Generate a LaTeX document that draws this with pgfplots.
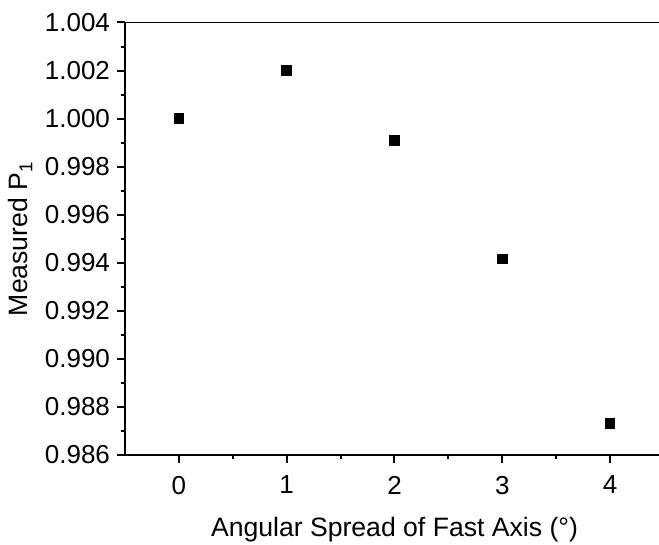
\documentclass[border=0pt]{standalone}
\usepackage{fontspec}
\setmainfont{Liberation Sans}
\usepackage{pgfplots}
\pgfplotsset{compat=1.18}
\begin{document}
\begin{tikzpicture}
\begin{axis}[
  name=ax,
  scale only axis,
  width=269.5pt, height=216.25pt,
  xmin=-0.5, xmax=4.5, ymin=0.986, ymax=1.004,
  axis x line*=bottom, axis y line*=left,
  axis line style={line width=1pt, -},
  xtick={0,1,2,3,4}, minor x tick num=1,
  ytick={0.986,0.988,0.990,0.992,0.994,0.996,0.998,1.000,1.002,1.004},
  minor y tick num=1,
  tick align=outside,
  major tick length=4pt, minor tick length=2pt,
  every tick/.style={black, line width=1pt},
  tick label style={font=\fontsize{13}{15}\selectfont},
  xticklabel style={yshift=-3pt},
  /pgf/number format/assume math mode=true,
  scaled y ticks=false,
  yticklabel style={/pgf/number format/.cd, fixed, fixed zerofill, precision=3},
  xlabel={Angular Spread of Fast Axis (°)},
  ylabel={Measured P\textsubscript{1}},
  label style={font=\fontsize{13.3}{15}\selectfont},
  xlabel style={at={(axis description cs:0.5,0)}, anchor=base, yshift=-41pt},
  ylabel style={at={(axis description cs:0,0.5)}, anchor=base, yshift=48.5pt},
]
\addplot[only marks, mark=square*, mark size=2.4pt, black] coordinates {
  (0,1.0000) (1,1.0020) (2,0.99910) (3,0.99416) (4,0.98732)
};
\draw[line width=1pt] (rel axis cs:0,1) -- (rel axis cs:1,1);
\end{axis}
\pgfresetboundingbox
\path (ax.south west) ++(-62.5pt,-45pt) rectangle ++(329.5pt,272.5pt);
\end{tikzpicture}
\end{document}
